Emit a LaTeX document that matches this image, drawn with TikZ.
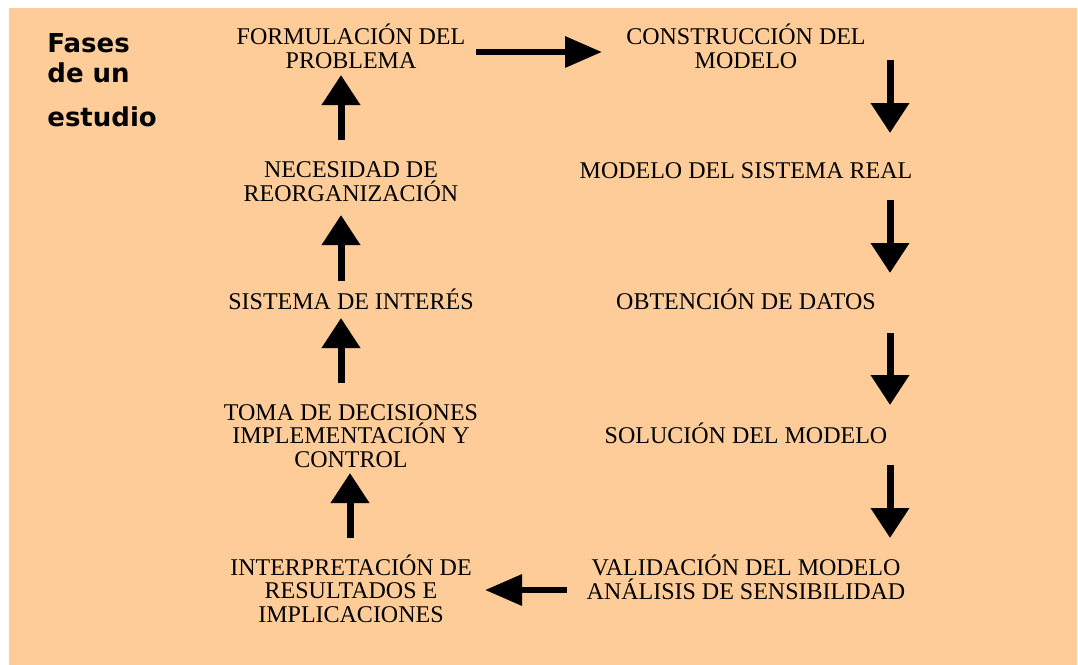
\documentclass[tikz,border=0pt]{standalone}
\usepackage{fontspec}
\setmainfont{Liberation Serif}
\newfontfamily\titulofont{DejaVu Sans}
\usetikzlibrary{arrows.meta}
\definecolor{melocoton}{RGB}{254,204,153}
\tikzstyle{flechav} = [line width=3.5pt,-{Triangle[length=15pt,width=18.5pt]}]
\tikzstyle{flechah} = [line width=3.2pt,-{Triangle[length=18.5pt,width=15pt]}]
\tikzstyle{fase} = [align=center,anchor=base,inner sep=0pt,font=\fontsize{12}{11.75}\selectfont]
\tikzstyle{titulo} = [anchor=base west,inner sep=0pt,font=\titulofont\bfseries\fontsize{13}{14}\selectfont]

\begin{document}
\begin{tikzpicture}[x=0.5pt,y=-0.5pt]
	\def \xl {351}
	\def \xr {746}
	\useasboundingbox (0,0) rectangle (1078,665);
	\fill[melocoton] (9,8) rectangle (1077,665);

	% titulo
	\node[titulo] (fases) at (47,52) {Fases};
	\node[titulo] (deun) at (47,82) {de un};
	\node[titulo] (estudio) at (47,126) {estudio};

	% columna izquierda (base = ultima linea)
	\node[fase] (formulacion) at (\xl,68) {FORMULACIÓN DEL\\PROBLEMA};
	\node[fase] (necesidad) at (\xl,201) {NECESIDAD DE\\REORGANIZACIÓN};
	\node[fase] (sistema) at (\xl,309) {SISTEMA DE INTERÉS};
	\node[fase] (decisiones) at (\xl,467) {TOMA DE DECISIONES\\IMPLEMENTACIÓN Y\\CONTROL};
	\node[fase] (interpretacion) at (\xl,622) {INTERPRETACIÓN DE\\RESULTADOS E\\IMPLICACIONES};

	% columna derecha
	\node[fase] (construccion) at (\xr,68) {CONSTRUCCIÓN DEL\\MODELO};
	\node[fase] (modelo) at (\xr,178) {MODELO DEL SISTEMA REAL};
	\node[fase] (datos) at (\xr,309) {OBTENCIÓN DE DATOS};
	\node[fase] (solucion) at (\xr,443) {SOLUCIÓN DEL MODELO};
	\node[fase] (validacion) at (\xr,599) {VALIDACIÓN DEL MODELO\\ANÁLISIS DE SENSIBILIDAD};

	% flechas
	\coordinate (h1a) at (476,52);
	\coordinate (h1b) at (602,52);
	\draw[flechah] (h1a) -- (h1b);
	\foreach \i/\ya/\yb in {1/60/133,2/200/273,3/333/405,4/465/538} {
		\coordinate (baja\i a) at (890,\ya);
		\coordinate (baja\i b) at (890,\yb);
		\draw[flechav] (baja\i a) -- (baja\i b);
	}
	\coordinate (h2a) at (567,590);
	\coordinate (h2b) at (485,590);
	\draw[flechah] (h2a) -- (h2b);
	\foreach \i/\x/\ya/\yb in {1/341/140/75,2/341/281/215,3/341/383/318,4/350/538/473} {
		\coordinate (sube\i a) at (\x,\ya);
		\coordinate (sube\i b) at (\x,\yb);
		\draw[flechav] (sube\i a) -- (sube\i b);
	}
\end{tikzpicture}
\end{document}
